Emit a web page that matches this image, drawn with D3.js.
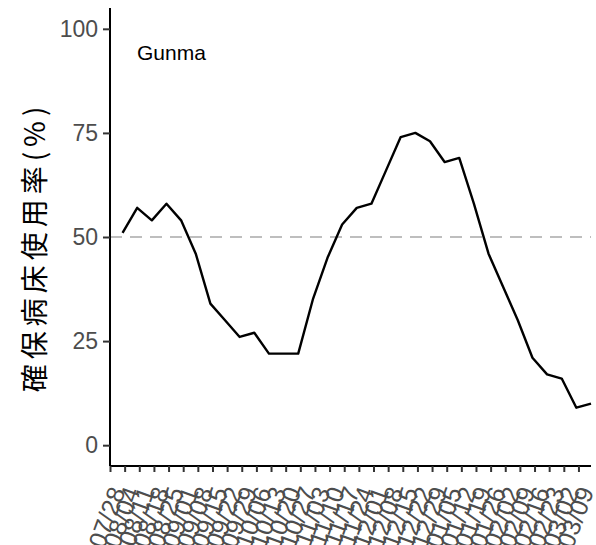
<!DOCTYPE html>
<html>
<head>
<meta charset="utf-8">
<title>Gunma</title>
<script src="https://d3js.org/d3.v7.min.js"></script>
<style>
  body { margin: 0; background: #fff; }
  .tick text { font-family: "Liberation Sans", Arial, sans-serif; }
</style>
</head>
<body>
<div id="chart"></div>
<script>
// weekly tick labels
var tickDates = ["2020-07-28","2020-08-04","2020-08-11","2020-08-18","2020-08-25","2020-09-01",
  "2020-09-08","2020-09-15","2020-09-22","2020-09-29","2020-10-06","2020-10-13","2020-10-20",
  "2020-10-27","2020-11-03","2020-11-10","2020-11-17","2020-11-24","2020-12-01","2020-12-08",
  "2020-12-15","2020-12-22","2020-12-29","2021-01-05","2021-01-12","2021-01-19","2021-01-26",
  "2021-02-02","2021-02-09","2021-02-16","2021-02-23","2021-03-02","2021-03-09"];

// observation dates and bed usage (%)
var obsDates = ["2020-08-03","2020-08-10","2020-08-17","2020-08-24","2020-08-31","2020-09-07",
  "2020-09-14","2020-09-21","2020-09-28","2020-10-05","2020-10-12","2020-10-19","2020-10-26",
  "2020-11-02","2020-11-09","2020-11-16","2020-11-23","2020-11-30","2020-12-07","2020-12-14",
  "2020-12-21","2020-12-28","2021-01-04","2021-01-11","2021-01-18","2021-01-25","2021-02-01",
  "2021-02-08","2021-02-15","2021-02-22","2021-03-01","2021-03-08","2021-03-15"];
var usage = [51,57,54,58,54,46,34,30,26,27,22,22,22,35,45,53,57,58,66,74,75,73,68,69,58,46,38,30,21,17,16,9,10];

var yTicks = [0,25,50,75,100];
var threshold = 50;

var parse = d3.timeParse("%Y-%m-%d");
var fmt = d3.timeFormat("%m/%d");

var W = 596, H = 545;
var svg = d3.select("#chart").append("svg")
    .attr("width", W).attr("height", H);

var x = d3.scaleTime()
    .domain([parse("2020-07-28"), parse("2021-03-15")])
    .range([110, 591]);
var y = d3.scaleLinear()
    .domain([-5, 105])
    .range([466, 8]);

// threshold line
svg.append("line")
    .attr("x1", 110).attr("x2", 591)
    .attr("y1", y(threshold)).attr("y2", y(threshold))
    .style("stroke", "#bebebe")
    .style("stroke-width", 2)
    .style("stroke-dasharray", "12,8");

var line = d3.line()
    .x(function(d, i){ return x(parse(obsDates[i])); })
    .y(function(d){ return y(d); });

svg.append("path")
    .datum(usage)
    .attr("d", line)
    .style("fill", "none")
    .style("stroke", "#000")
    .style("stroke-width", 2.4)
    .style("stroke-linejoin", "round");

// y axis
var yAxis = svg.append("g")
    .attr("transform", "translate(110,0)")
    .call(d3.axisLeft(y).tickValues(yTicks).tickSize(7).tickPadding(5));
yAxis.select(".domain").attr("d", "M0,8V466").style("stroke", "#000").style("stroke-width", 2);
yAxis.selectAll(".tick line").style("stroke", "#333").style("stroke-width", 2);
yAxis.selectAll(".tick text")
    .style("font-size", "23px")
    .style("fill", "#4d4d4d");

// x axis
var xAxis = svg.append("g")
    .attr("transform", "translate(0,466)")
    .call(d3.axisBottom(x).tickValues(tickDates.map(parse)).tickFormat(fmt).tickSize(6));
xAxis.select(".domain").attr("d", "M110,0H591").style("stroke", "#000").style("stroke-width", 2);
xAxis.selectAll(".tick line").style("stroke", "#333").style("stroke-width", 2);
xAxis.selectAll(".tick text")
    .style("font-size", "25px")
    .style("fill", "#4d4d4d")
    .style("text-anchor", "end")
    .attr("y", 0).attr("dy", "0.35em")
    .attr("transform", "translate(7,22) rotate(-70)");

// y title
svg.append("text")
    .attr("transform", "translate(45,247) rotate(-90)")
    .style("text-anchor", "middle")
    .style("font-family", "'Noto Sans CJK JP', sans-serif")
    .style("font-size", "28px")
    .style("letter-spacing", "5px")
    .style("fill", "#000")
    .text("確保病床使用率(%)");

// panel label
svg.append("text")
    .attr("x", 137).attr("y", 60)
    .style("font-family", "'Liberation Sans', Arial, sans-serif")
    .style("font-size", "21px")
    .style("fill", "#000")
    .text("Gunma");
</script>
</body>
</html>
